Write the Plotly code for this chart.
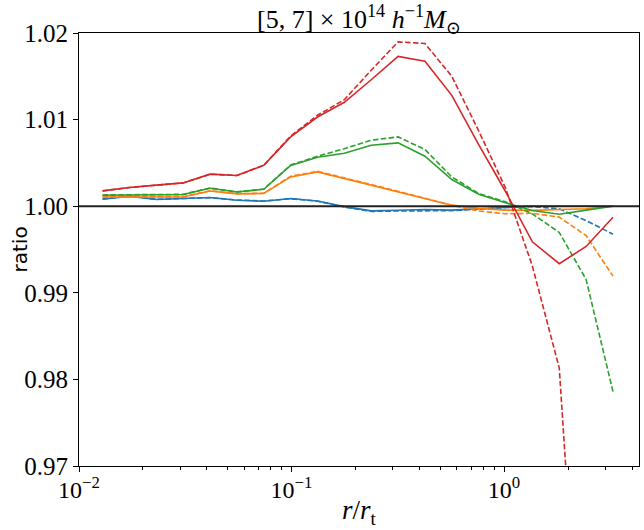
import plotly.graph_objects as go

# radial bins r/r_t
r = [0.01291, 0.01728, 0.02311, 0.03092, 0.04136, 0.05534, 0.07403, 0.09904,
     0.1325, 0.1772, 0.2371, 0.3172, 0.4244, 0.5677, 0.7597, 1.016,
     1.359, 1.819, 2.433, 3.255]

blue_solid = [1.00081, 1.00115, 1.00077, 1.00089, 1.00100, 1.00069, 1.00058, 1.00089,
              1.00061, 0.99995, 0.99946, 0.99954, 0.99962, 0.99955, 0.99970, 0.99990,
              1.00000, 1.00000, 1.00000, 1.00000]
blue_dashed = [1.00085, 1.00112, 1.00080, 1.00088, 1.00098, 1.00072, 1.00060, 1.00086,
               1.00058, 0.99990, 0.99940, 0.99945, 0.99950, 0.99948, 0.99965, 0.99985,
               0.99995, 0.99970, 0.99834, 0.99677]
orange_solid = [1.00107, 1.00107, 1.00105, 1.00107, 1.00175, 1.00142, 1.00147, 1.00338,
                1.00396, 1.00320, 1.00242, 1.00165, 1.00089, 1.00012, 0.99975, 0.99955,
                0.99952, 0.99958, 0.99970, 1.00000]
orange_dashed = [1.00110, 1.00110, 1.00108, 1.00110, 1.00178, 1.00145, 1.00150, 1.00345,
                 1.00403, 1.00330, 1.00250, 1.00172, 1.00092, 1.00010, 0.99945, 0.99912,
                 0.99918, 0.99874, 0.99660, 0.99192]
green_solid = [1.00127, 1.00128, 1.00128, 1.00135, 1.00208, 1.00164, 1.00195, 1.00470,
               1.00565, 1.00612, 1.00704, 1.00731, 1.00577, 1.00308, 1.00139, 1.00040,
               0.99950, 0.99908, 0.99955, 1.00000]
green_dashed = [1.00130, 1.00130, 1.00130, 1.00137, 1.00210, 1.00166, 1.00198, 1.00475,
                1.00577, 1.00664, 1.00762, 1.00800, 1.00655, 1.00338, 1.00147, 1.00050,
                0.99911, 0.99697, 0.99154, 0.97859]
red_solid = [1.00177, 1.00216, 1.00243, 1.00269, 1.00370, 1.00354, 1.00473, 1.00800,
             1.01030, 1.01200, 1.01460, 1.01730, 1.01674, 1.01280, 1.00710, 1.00170,
             0.99589, 0.99336, 0.99535, 0.99873]
red_dashed = [1.00177, 1.00216, 1.00243, 1.00269, 1.00370, 1.00354, 1.00473, 1.00810,
              1.01050, 1.01230, 1.01570, 1.01897, 1.01879, 1.01500, 1.00870, 1.00210,
              0.99310, 0.98130, 0.93400, 0.90000]

x_tickvals = [0.01, 0.1, 1]
x_ticktext = ["10<sup>−2</sup>", "10<sup>−1</sup>", "10<sup>0</sup>"]
x_minor = [0.02, 0.03, 0.04, 0.05, 0.06, 0.07, 0.08, 0.09,
           0.2, 0.3, 0.4, 0.5, 0.6, 0.7, 0.8, 0.9, 2, 3, 4]
y_tickvals = [0.97, 0.98, 0.99, 1.00, 1.01, 1.02]
y_ticktext = ["0.97", "0.98", "0.99", "1.00", "1.01", "1.02"]

series = [
    (blue_solid, "#1f77b4", "solid"),
    (blue_dashed, "#1f77b4", "dash"),
    (orange_solid, "#ff7f0e", "solid"),
    (orange_dashed, "#ff7f0e", "dash"),
    (green_solid, "#2ca02c", "solid"),
    (green_dashed, "#2ca02c", "dash"),
    (red_solid, "#d62728", "solid"),
    (red_dashed, "#d62728", "dash"),
]

fig = go.Figure()
for vals, col, style in series:
    fig.add_trace(go.Scatter(
        x=r, y=vals, mode="lines",
        line=dict(color=col, width=1.6, dash="solid" if style == "solid" else "5.5px,2.4px"),
        showlegend=False,
    ))

fig.add_shape(type="line", xref="paper", x0=0, x1=1, yref="y", y0=1.0, y1=1.0,
              line=dict(color="#222222", width=2), layer="above")

serif = "Liberation Serif, DejaVu Serif, serif"
W, H = 644, 530
fig.update_layout(
    width=W, height=H,
    margin=dict(l=79, r=5, t=33, b=64),
    plot_bgcolor="white", paper_bgcolor="white",
    title=dict(text="[5, 7] × 10<sup>14</sup> <i>h</i><sup>−1</sup><i>M</i><sub>⊙</sub>",
               x=(79 + 639) / 2 / W, xref="container", xanchor="center",
               yref="container", y=1 - 19 / H, yanchor="middle",
               font=dict(family=serif, size=26, color="black")),
)
fig.add_annotation(text="<i>r</i>/<i>r</i><sub>t</sub>", xref="paper", yref="paper",
                   x=0.5, y=-(512 - 466) / (466 - 33), xanchor="center", yanchor="middle",
                   showarrow=False, font=dict(family=serif, size=27, color="black"))
fig.add_annotation(text="ratio", xref="paper", yref="paper",
                   x=-(79 - 19) / (639 - 79), y=0.5, xanchor="center", yanchor="middle",
                   textangle=-90, showarrow=False,
                   font=dict(family="DejaVu Sans, sans-serif", size=20, color="black"))
fig.update_xaxes(
    type="log", range=[-2.0, 0.635], automargin=False,
    tickmode="array", tickvals=x_tickvals, ticktext=x_ticktext,
    ticks="outside", ticklen=5, tickwidth=1, tickcolor="black",
    ticklabelstandoff=-3,
    showline=True, linecolor="black", linewidth=1, mirror=True,
    showgrid=False, zeroline=False,
    tickfont=dict(family=serif, size=24, color="black"),
    minor=dict(tickmode="array", tickvals=x_minor, ticks="outside", ticklen=3,
               tickcolor="black", tickwidth=0.8, showgrid=False),
)
fig.update_yaxes(
    range=[0.97, 1.02], automargin=False,
    tickmode="array", tickvals=y_tickvals, ticktext=y_ticktext,
    ticks="outside", ticklen=5, tickwidth=1, tickcolor="black",
    showline=True, linecolor="black", linewidth=1, mirror=True,
    showgrid=False, zeroline=False,
    tickfont=dict(family=serif, size=25, color="black"),
)

fig.write_html("out.html", config={"displayModeBar": False},
               post_script="document.body.style.margin='0';document.body.style.padding='0';")
